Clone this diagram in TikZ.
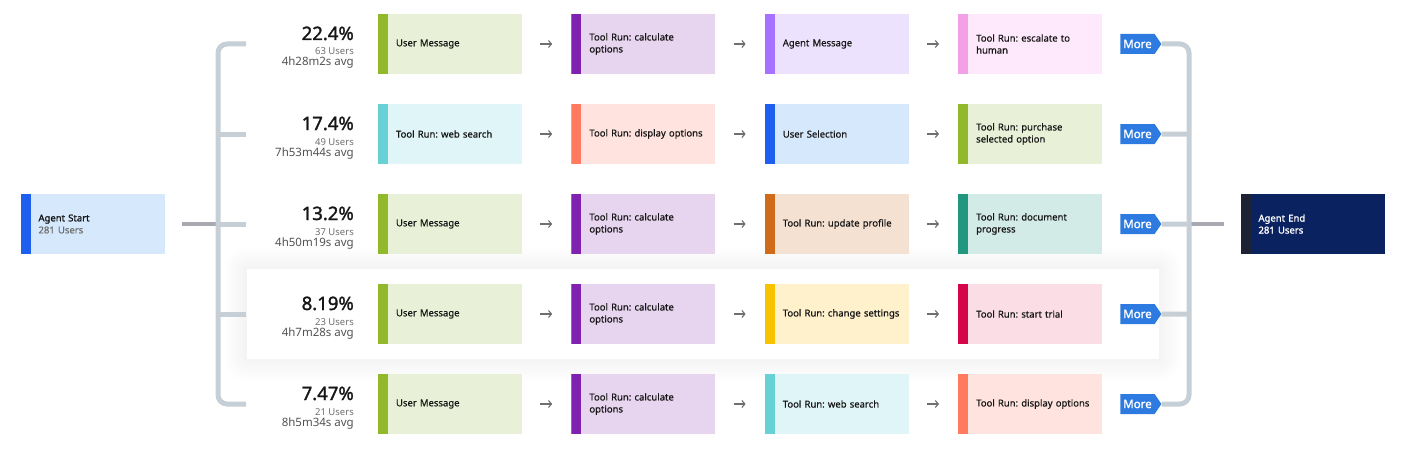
\documentclass[tikz,border=0pt]{standalone}
\usepackage{fontspec}
\setmainfont{Noto Sans}[BoldFont=Noto Sans, BoldFeatures={FakeBold=1.6}]
\newfontfamily\labelfont{Noto Sans}[FakeBold=0.5, BoldFont=Noto Sans, BoldFeatures={FakeBold=1.4}]
\frenchspacing
\usetikzlibrary{positioning,arrows.meta,shapes.symbols}

\definecolor{ink}{HTML}{161616}
\definecolor{usersgray}{HTML}{6F6F6F}
\definecolor{avggray}{HTML}{525252}
\definecolor{arrowgray}{HTML}{6F6F6F}
\definecolor{brackgray}{HTML}{C6CFD6}
\definecolor{joingray}{HTML}{A8A8B0}
\definecolor{moreblue}{HTML}{2D7BE0}
\definecolor{bluebar}{HTML}{1F5FF0}
\definecolor{bluefill}{HTML}{D5E8FC}
\definecolor{endfill}{HTML}{0B2260}
\definecolor{endbar}{HTML}{1E2333}
\definecolor{greenbar}{HTML}{92B92C}
\definecolor{greenfill}{HTML}{E8F0D7}
\definecolor{purplebar}{HTML}{7F22AF}
\definecolor{purplefill}{HTML}{E7D4EF}
\definecolor{violetbar}{HTML}{A672FF}
\definecolor{violetfill}{HTML}{ECE2FE}
\definecolor{pinkbar}{HTML}{F4A0E6}
\definecolor{pinkfill}{HTML}{FEE8FB}
\definecolor{tealbar}{HTML}{68D1D6}
\definecolor{tealfill}{HTML}{E0F5F7}
\definecolor{salmonbar}{HTML}{FF7A5E}
\definecolor{salmonfill}{HTML}{FFE3DE}
\definecolor{orangebar}{HTML}{D06B1A}
\definecolor{orangefill}{HTML}{F5E1D1}
\definecolor{seabar}{HTML}{21977F}
\definecolor{seafill}{HTML}{D3EBE6}
\definecolor{yellowbar}{HTML}{F7C300}
\definecolor{yellowfill}{HTML}{FFF1CC}
\definecolor{redbar}{HTML}{D5054B}
\definecolor{redfill}{HTML}{FADDE5}

\begin{document}
\begin{tikzpicture}[x=1pt, y=-1pt,
    stepbox/.style 2 args={fill=#1, minimum width=144pt, minimum height=60pt,
        inner xsep=2pt, inner ysep=0pt, text width=140pt, align=left, text=ink,
        font=\labelfont\fontsize{9.5}{12}\selectfont,
        execute at begin node={\leftskip=16pt\relax},
        path picture={\fill[#2] (path picture bounding box.south west)
            rectangle ([xshift=10pt]path picture bounding box.north west);}},
    steparrow/.style={draw=arrowgray, line width=1.1pt,
        -{Straight Barb[length=3pt,width=7pt]}, shorten <=18pt, shorten >=19pt},
    pct/.style={font=\fontsize{18.5}{20}\selectfont\bfseries, text=ink,
        inner sep=0pt, anchor=base east},
    users/.style={font=\fontsize{9.5}{10}\selectfont, text=usersgray,
        inner sep=0pt, anchor=base east},
    avg/.style={font=\fontsize{11.5}{12}\selectfont, text=avggray,
        inner sep=0pt, anchor=base east},
    moretag/.style={signal, signal to=east, signal pointer angle=112,
        fill=moreblue, text=white, font=\fontsize{11.5}{12}\selectfont\bfseries,
        minimum width=41pt, minimum height=20pt, inner sep=0pt},
    bracket/.style={draw=brackgray, line width=5pt, rounded corners=9pt},
    joinline/.style={draw=joingray, line width=4pt}]

    \useasboundingbox[fill=white] (0,0) rectangle (1424,452);

    % highlighted row
    \path (247,269) coordinate (cardNW) (1159,359) coordinate (cardSE);
    \foreach \s in {2,4,...,22}
        \fill[black, opacity=0.0035, rounded corners=\s pt]
            ([shift={(-\s,-\s)}]cardNW) rectangle ([shift={(\s,\s)}]cardSE);
    \fill[white] (cardNW) rectangle (cardSE);

    % start and end
    \node[stepbox={bluefill}{bluebar}] (start) at (92.5,224)
        {\textbf{Agent Start}\\{\color{usersgray}281 Users}};
    \node[stepbox={endfill}{endbar}, text=white] (end) at (1312.5,224)
        {\textbf{Agent End}\\\textbf{281 Users}};

    % row 1
    \node[pct] (p1) at (354,40) {22.4\%};
    \node[users] (u1) at (354,55) {63 Users};
    \node[avg] (a1) at (354,66) {4h28m2s avg};
    \node[stepbox={greenfill}{greenbar}] (s11) at (450,44) {User Message};
    \node[stepbox={purplefill}{purplebar}, right=49pt of s11] (s12) {Tool Run: calculate\\options};
    \node[stepbox={violetfill}{violetbar}, right=49pt of s12] (s13) {Agent Message};
    \node[stepbox={pinkfill}{pinkbar}, right=49pt of s13] (s14) {Tool Run: escalate to\\human};
    \node[moretag] (m1) at (1137.5,44) {More};

    % row 2
    \node[pct] (p2) at (354,130) {17.4\%};
    \node[users] (u2) at (354,145) {49 Users};
    \node[avg] (a2) at (354,156) {7h53m44s avg};
    \node[stepbox={tealfill}{tealbar}] (s21) at (450,134) {Tool Run: web search};
    \node[stepbox={salmonfill}{salmonbar}, right=49pt of s21] (s22) {Tool Run: display options};
    \node[stepbox={bluefill}{bluebar}, right=49pt of s22] (s23) {User Selection};
    \node[stepbox={greenfill}{greenbar}, right=49pt of s23] (s24) {Tool Run: purchase\\selected option};
    \node[moretag] (m2) at (1137.5,134) {More};

    % row 3
    \node[pct] (p3) at (354,220) {13.2\%};
    \node[users] (u3) at (354,235) {37 Users};
    \node[avg] (a3) at (354,246) {4h50m19s avg};
    \node[stepbox={greenfill}{greenbar}] (s31) at (450,224) {User Message};
    \node[stepbox={purplefill}{purplebar}, right=49pt of s31] (s32) {Tool Run: calculate\\options};
    \node[stepbox={orangefill}{orangebar}, right=49pt of s32] (s33) {Tool Run: update profile};
    \node[stepbox={seafill}{seabar}, right=49pt of s33] (s34) {Tool Run: document\\progress};
    \node[moretag] (m3) at (1137.5,224) {More};

    % row 4
    \node[pct] (p4) at (354,310) {8.19\%};
    \node[users] (u4) at (354,325) {23 Users};
    \node[avg] (a4) at (354,336) {4h7m28s avg};
    \node[stepbox={greenfill}{greenbar}] (s41) at (450,314) {User Message};
    \node[stepbox={purplefill}{purplebar}, right=49pt of s41] (s42) {Tool Run: calculate\\options};
    \node[stepbox={yellowfill}{yellowbar}, right=49pt of s42] (s43) {Tool Run: change settings};
    \node[stepbox={redfill}{redbar}, right=49pt of s43] (s44) {Tool Run: start trial};
    \node[moretag] (m4) at (1137.5,314) {More};

    % row 5
    \node[pct] (p5) at (354,400) {7.47\%};
    \node[users] (u5) at (354,415) {21 Users};
    \node[avg] (a5) at (354,426) {8h5m34s avg};
    \node[stepbox={greenfill}{greenbar}] (s51) at (450,404) {User Message};
    \node[stepbox={purplefill}{purplebar}, right=49pt of s51] (s52) {Tool Run: calculate\\options};
    \node[stepbox={tealfill}{tealbar}, right=49pt of s52] (s53) {Tool Run: web search};
    \node[stepbox={salmonfill}{salmonbar}, right=49pt of s53] (s54) {Tool Run: display options};
    \node[moretag] (m5) at (1137.5,404) {More};

    % arrows between steps
    \foreach \r in {1,...,5} {
        \draw[steparrow] (s\r1) -- (s\r2);
        \draw[steparrow] (s\r2) -- (s\r3);
        \draw[steparrow] (s\r3) -- (s\r4);
    }

    % brackets
    \coordinate (lstem) at (218,224);
    \coordinate (rstem) at (1189,224);
    \foreach \r/\y in {1/44,2/134,3/224,4/314,5/404}
        \coordinate (lb\r) at (246,\y);
    \draw[joinline, shorten <=17pt] (start) -- (lstem);
    \draw[joinline, shorten >=16pt] (rstem) -- (end);
    \draw[bracket] (lb1) -| (lstem) |- (lb5);
    \draw[bracket] (lb2) -- (lb2 -| lstem);
    \draw[bracket] (lb3) -- (lstem);
    \draw[bracket] (lb4) -- (lb4 -| lstem);
    \draw[bracket] (m1) -| (rstem) |- (m5);
    \draw[bracket] (m2) -- (m2 -| rstem);
    \draw[bracket] (m3) -- (rstem);
    \draw[bracket] (m4) -- (m4 -| rstem);
\end{tikzpicture}
\end{document}
